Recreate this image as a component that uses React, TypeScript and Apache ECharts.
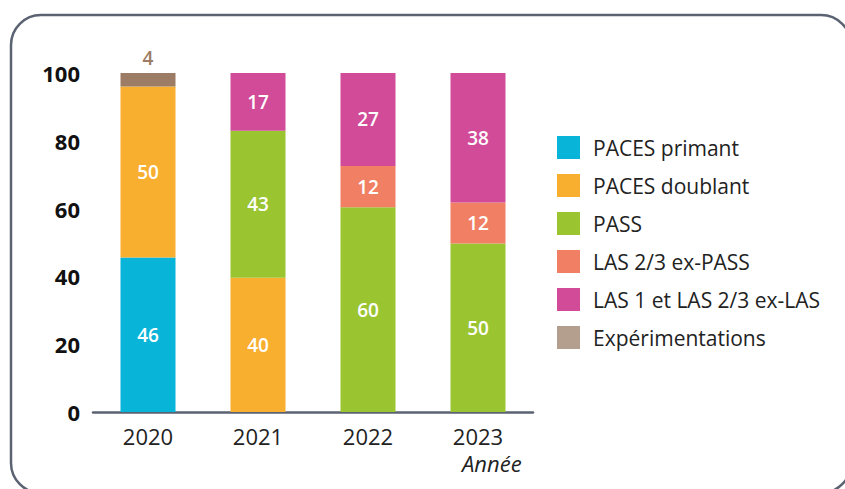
import React, { useEffect, useRef } from "react";
import * as echarts from "echarts";

const years = ["2020", "2021", "2022", "2023"];
const pacesPrimant = [45.6, null, null, null];
const pacesDoublant = [50.4, 39.6, null, null];
const pass = [null, 43.4, 60.4, 49.7];
const las23exPass = [null, null, 12.2, 12.1];
const las1 = [null, 17.0, 27.4, 38.2];
const experimentations = [4.0, null, null, null];

const seriesDefs = [
  { name: "PACES primant", data: pacesPrimant, color: "#08b4d8", legendColor: "#08b4d8" },
  { name: "PACES doublant", data: pacesDoublant, color: "#f8ae2e", legendColor: "#f8ae2e" },
  { name: "PASS", data: pass, color: "#9bc431", legendColor: "#9bc431" },
  { name: "LAS 2/3 ex-PASS", data: las23exPass, color: "#f07f64", legendColor: "#f07f64" },
  { name: "LAS 1 et LAS 2/3 ex-LAS", data: las1, color: "#d14b98", legendColor: "#d14b98" },
  { name: "Expérimentations", data: experimentations, color: "#9c7c64", legendColor: "#b49f8f" },
];

const FONT = "'Open Sans', 'Noto Sans', sans-serif";

export default function App() {
  const ref = useRef<HTMLDivElement>(null);
  useEffect(() => {
    document.body.style.margin = "0";
    const chart = echarts.init(ref.current!, null, { renderer: "svg" });
    chart.setOption({
      animation: false,
      textStyle: { fontFamily: FONT },
      grid: { left: 93, right: 312, top: 73, bottom: 77 },
      legend: {
        orient: "vertical",
        left: 552,
        top: 131,
        itemWidth: 23,
        itemHeight: 23,
        itemGap: 15,
        icon: "rect",
        textStyle: { fontSize: 21, color: "#222", fontFamily: FONT, padding: [0, 0, 0, 8] },
        data: seriesDefs.map((s) => ({ name: s.name, itemStyle: { color: s.legendColor } })),
      },
      xAxis: {
        type: "category",
        data: years,
        axisLine: { lineStyle: { color: "#5b6372", width: 2.5 } },
        axisTick: { show: false },
        axisLabel: { fontSize: 22, color: "#222", margin: 15, lineHeight: 18, fontFamily: FONT },
      },
      yAxis: {
        type: "value",
        min: 0,
        max: 100,
        interval: 20,
        splitLine: { show: false },
        axisLine: { show: false },
        axisTick: { show: false },
        axisLabel: { fontSize: 22, fontWeight: "bold", color: "#111", margin: 13, fontFamily: FONT },
      },
      graphic: [
        {
          type: "rect",
          shape: { x: 11, y: 15, width: 840, height: 478, r: 30 },
          style: { fill: "none", stroke: "#5b6372", lineWidth: 2.5 },
          silent: true,
        },
        {
          type: "text",
          left: 462,
          top: 452,
          style: { text: "Année", fontSize: 22, lineHeight: 18, fontStyle: "italic", fill: "#222", fontFamily: FONT },
        },
      ],
      series: seriesDefs.map((s) => ({
        name: s.name,
        type: "bar",
        stack: "total",
        barWidth: "50%",
        data: s.data,
        itemStyle: { color: s.color },
        label: {
          show: true,
          position: s.name === "Expérimentations" ? "top" : "inside",
          color: s.name === "Expérimentations" ? "#9c7c64" : "#ffffff",
          fontSize: 19,
          fontWeight: 600,
          fontFamily: FONT,
          distance: 6,
          formatter: (p: any) => (p.value == null ? "" : String(Math.round(p.value))),
        },
      })),
    });
    return () => chart.dispose();
  }, []);
  return <div ref={ref} style={{ width: 845, height: 489 }} />;
}
